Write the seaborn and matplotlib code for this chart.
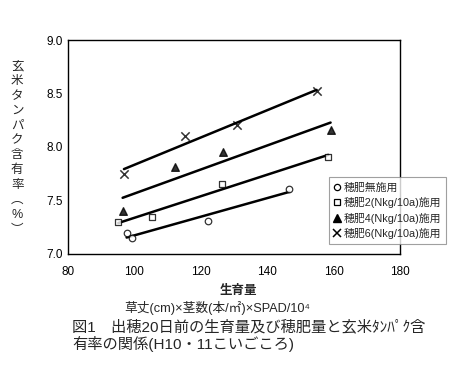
import numpy as np
import pandas as pd
import matplotlib
matplotlib.use('Agg')
import matplotlib.pyplot as plt
from matplotlib.lines import Line2D
import seaborn as sns

# data
groups = ['穂肥無施用', '穂肥2(Nkg/10a)施用', '穂肥4(Nkg/10a)施用', '穂肥6(Nkg/10a)施用']
x_none = [97.7, 99.4, 122.3, 146.7]
y_none = [7.20, 7.15, 7.31, 7.61]
x_n2 = [95.2, 105.2, 126.5, 158.4]
y_n2 = [7.30, 7.35, 7.65, 7.91]
x_n4 = [96.5, 112.2, 126.8, 159.1]
y_n4 = [7.40, 7.81, 7.95, 8.16]
x_n6 = [96.9, 115.2, 130.8, 154.9]
y_n6 = [7.75, 8.10, 8.21, 8.52]
xticks = [80, 100, 120, 140, 160, 180]
yticks = [7.0, 7.5, 8.0, 8.5, 9.0]

sns.set_style('white')
plt.rcParams['font.family'] = ['Liberation Sans', 'Noto Sans CJK JP', 'DejaVu Sans']

fig = plt.figure(figsize=(4.52, 3.67), dpi=100)
ax = fig.add_axes([0.150, 0.308, 0.735, 0.583])

styles = [
    dict(marker='o', scatter_kws={'facecolors': 'white', 'edgecolors': 'black', 's': 22, 'linewidths': 0.9}),
    dict(marker='s', scatter_kws={'facecolors': 'white', 'edgecolors': 'black', 's': 22, 'linewidths': 0.9}),
    dict(marker='^', scatter_kws={'s': 30}),
    dict(marker='x', scatter_kws={'s': 36, 'linewidths': 1.1}),
]
xs = [x_none, x_n2, x_n4, x_n6]
ys = [y_none, y_n2, y_n4, y_n6]

for g, xv, yv, st in zip(groups, xs, ys, styles):
    df = pd.DataFrame({'x': xv, 'y': yv})
    sns.regplot(data=df, x='x', y='y', ax=ax, ci=None, truncate=True, color='black',
                marker=st['marker'], scatter_kws=dict(st['scatter_kws'], zorder=3),
                line_kws={'lw': 1.8})

ax.set_xlim(80, 180)
ax.set_ylim(7.0, 9.0)
ax.set_xticks(xticks)
ax.set_yticks(yticks)
ax.set_yticklabels([f'{v:.1f}' for v in yticks])
ax.set_xlabel('')
ax.set_ylabel('')
ax.tick_params(direction='in', length=3, width=0.8, labelsize=8.5, colors='black')
ax.tick_params(axis='x', pad=9)
for s in ax.spines.values():
    s.set_color('black')
    s.set_linewidth(1.0)

handles = [
    Line2D([], [], marker='o', ls='none', mfc='white', mec='black', ms=4.5, mew=0.9),
    Line2D([], [], marker='s', ls='none', mfc='white', mec='black', ms=4.5, mew=0.9),
    Line2D([], [], marker='^', ls='none', mfc='black', mec='black', ms=5.5),
    Line2D([], [], marker='x', ls='none', mec='black', ms=5.5, mew=1.1),
]
leg = fig.legend(handles, groups, loc='upper left', bbox_to_anchor=(0.728, 0.517),
                 fontsize=7.8, frameon=True, fancybox=False, handlelength=0.6,
                 handletextpad=0.3, labelspacing=0.42, borderpad=0.45, borderaxespad=0)
leg.get_frame().set_edgecolor('#888888')
leg.get_frame().set_linewidth(0.8)

ylab = ['玄', '米', 'タ', 'ン', 'パ', 'ク', '含', '有', '率', '︵', '%', '︶']
fig.text(0.038, 0.597, '\n'.join(ylab), ha='center', va='center', fontsize=9,
         linespacing=1.32)

fig.text(0.527, 0.208, '生育量', ha='center', va='center', fontsize=9, fontweight='bold')
fig.text(0.48, 0.160, '草丈(cm)×茎数(本/㎡)×SPAD/10⁴', ha='center', va='center', fontsize=9.2)
fig.text(0.160, 0.110, '図1　出穂20日前の生育量及び穂肥量と玄米ﾀﾝﾊﾟｸ含', ha='left', va='center', fontsize=11)
fig.text(0.160, 0.063, '有率の関係(H10・11こいごころ)', ha='left', va='center', fontsize=11)

fig.savefig('out.png', dpi=100, facecolor='white')
